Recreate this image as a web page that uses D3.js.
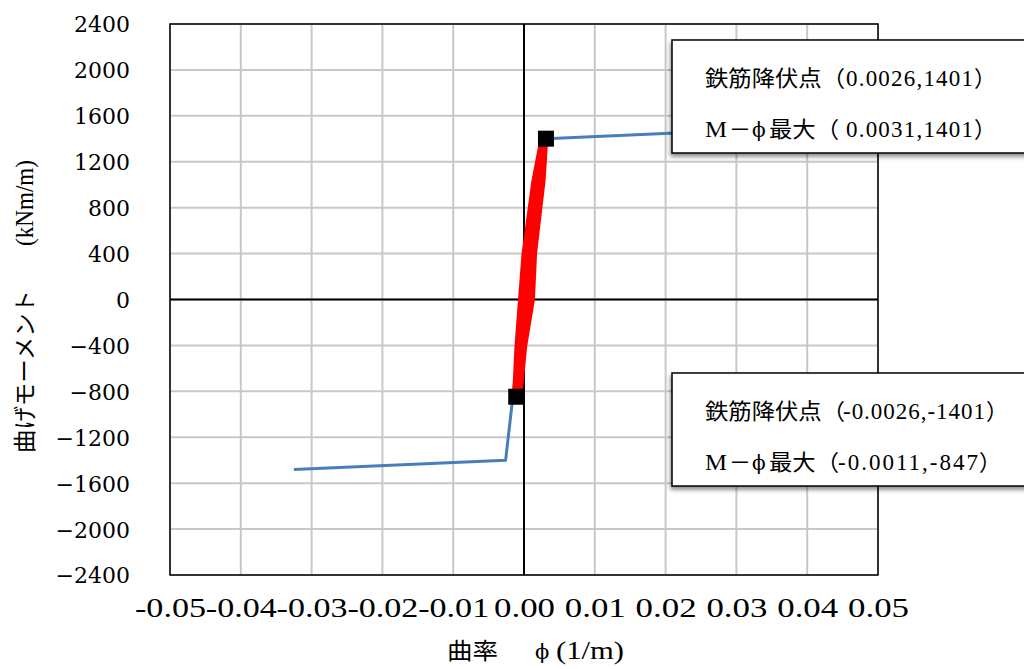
<!DOCTYPE html>
<html><head><meta charset="utf-8">
<script src="https://cdn.jsdelivr.net/npm/d3@7"></script>
<style>
html,body{margin:0;padding:0;background:#fff;}
svg{display:block;}
</style></head>
<body>
<svg id="chart" width="1024" height="669"></svg>
<script>
// ---- data ----
const xTickValues = [-0.05,-0.04,-0.03,-0.02,-0.01,0,0.01,0.02,0.03,0.04,0.05];
const xTickLabels = ["-0.05","-0.04","-0.03","-0.02","-0.01","0.00","0.01","0.02","0.03","0.04","0.05"];
const yTickValues = [-2400,-2000,-1600,-1200,-800,-400,0,400,800,1200,1600,2000,2400];
const yTickLabels = ["\u22122400","\u22122000","\u22121600","\u22121200","\u2212800","\u2212400","0","400","800","1200","1600","2000","2400"];

// skeleton curve (blue)
const skeletonPhi = [-0.0325,-0.0026,0,0.0026,0.0031,0.0325];
const skeletonM   = [-1480,-1401,0,1401,1401,1480];

// hysteresis loops (red)
const loopPhi = [
 -0.0011,-0.0014,-0.0011,-0.0006,-0.0001,0.0013,0.0022,0.0031,
  0.0031,0.0028,0.0016,0.0013,0.0002,-0.0004,-0.0011,
 -0.0012,-0.0008,-0.0002,0.0003,0.0016,0.0024,0.0031,
  0.0030,0.0025,0.0012,0.0008,-0.0002,-0.0007,-0.0011,
 -0.0010,-0.0005,0.0001,0.0006,0.0019,0.0026,0.0031,
  0.0028,0.0022,0.0009,0.0004,-0.0004,-0.0009,-0.0011
];
const loopM = [
 -847,-793,-409,0,400,1037,1324,1401,
  1324,1037,400,0,-409,-793,-847,
 -793,-409,0,400,1037,1324,1401,
  1324,1037,400,0,-409,-793,-847,
 -793,-409,0,400,1037,1324,1401,
  1324,1037,400,0,-409,-793,-847
];

// markers (M-phi max)
const markerPhi = [0.0031,-0.0011];
const markerM   = [1401,-847];

// annotation texts
const annoPrefix = ["鉄筋降伏点（","最大（"];
const annoNums1 = ["0.0026,1401","0.0031,1401"];
const annoNums2 = ["-0.0026,-1401","-0.0011,-847"];

const xTitleParts = ["曲率","\u03D5","(1/m)"];
const yTitleParts = ["曲げモーメント","(kNm/m)"];

// ---- layout ----
const L = 170, R = 878, T = 24, B = 575;
const svg = d3.select("#chart");
const x = d3.scaleLinear().domain([-0.05,0.05]).range([L,R]);
const y = d3.scaleLinear().domain([-2400,2400]).range([B,T]);
const CJK = "'Noto Sans CJK JP'";

const defs = svg.append("defs");
const f = defs.append("filter").attr("id","shadow").attr("x","-10%").attr("y","-10%").attr("width","130%").attr("height","140%");
f.append("feDropShadow").attr("dx",-1).attr("dy",3).attr("stdDeviation",2).attr("flood-color","#000").attr("flood-opacity",0.45);

// grid
const grid = svg.append("g");
grid.selectAll("line.v").data(xTickValues).join("line").attr("class","v")
  .attr("x1",d=>x(d)).attr("x2",d=>x(d)).attr("y1",T).attr("y2",B)
  .attr("stroke","#c8c8c8").attr("stroke-width",2);
grid.selectAll("line.h").data(yTickValues).join("line").attr("class","h")
  .attr("x1",L).attr("x2",R).attr("y1",d=>y(d)).attr("y2",d=>y(d))
  .attr("stroke","#c8c8c8").attr("stroke-width",2);

// border
svg.append("rect").attr("x",L).attr("y",T).attr("width",R-L).attr("height",B-T)
  .attr("fill","none").attr("stroke","#000").attr("stroke-width",1.5);

// zero axes
svg.append("line").attr("x1",x(0)).attr("x2",x(0)).attr("y1",T).attr("y2",B).attr("stroke","#000").attr("stroke-width",2);
svg.append("line").attr("x1",L).attr("x2",R).attr("y1",y(0)).attr("y2",y(0)).attr("stroke","#000").attr("stroke-width",2);

// axis tick labels via d3 axes
const yAxis = d3.axisLeft(y).tickValues(yTickValues).tickSize(0).tickPadding(0)
  .tickFormat((d,i)=>yTickLabels[i]);
const gy = svg.append("g").attr("transform","translate(130,0)").call(yAxis);
gy.select(".domain").remove();
gy.selectAll("text").attr("font-family","'DejaVu Serif'").attr("font-size",22).attr("fill","#000").attr("dy","0.36em");

const xAxis = d3.axisBottom(x).tickValues(xTickValues).tickSize(0).tickPadding(0)
  .tickFormat((d,i)=>xTickLabels[i]);
const gx = svg.append("g").attr("transform","translate(0,598)").call(xAxis);
gx.select(".domain").remove();
gx.selectAll("text").attr("font-family","'Liberation Serif'").attr("font-size",27).attr("fill","#000").attr("dy","0.7em")
  .attr("textLength",(d,i)=>xTickLabels[i].length===5?71:61).attr("lengthAdjust","spacingAndGlyphs");

// x title
const xt = svg.append("text").attr("y",659).attr("font-size",23).attr("fill","#000");
xt.append("tspan").attr("x",447).attr("font-family",CJK).attr("textLength",51).attr("lengthAdjust","spacingAndGlyphs").text(xTitleParts[0]);
xt.append("tspan").attr("x",535).attr("font-family","'DejaVu Serif'").attr("font-size",21).text(xTitleParts[1]);
xt.append("tspan").attr("x",556).attr("font-family","'Liberation Serif'").attr("font-size",25).attr("textLength",68).attr("lengthAdjust","spacingAndGlyphs").text(xTitleParts[2]);

// y title
const yt = svg.append("text").attr("transform","translate(25,0) rotate(-90)").attr("dy","0.36em").attr("font-size",23).attr("fill","#000");
yt.append("tspan").attr("x",-453).attr("font-family",CJK).attr("textLength",163).attr("lengthAdjust","spacingAndGlyphs").text(yTitleParts[0]);
yt.append("tspan").attr("x",-246).attr("font-family","'Liberation Serif'").attr("font-size",25).attr("textLength",86).attr("lengthAdjust","spacingAndGlyphs").text(yTitleParts[1]);

// skeleton
const skel = skeletonPhi.map((p,i)=>[p,skeletonM[i]]);
const line = d3.line().x(d=>x(d[0])).y(d=>y(d[1]));
svg.append("path").attr("d",line(skel)).attr("fill","none").attr("stroke","#4a7ebb").attr("stroke-width",3).attr("stroke-linejoin","round");

// hysteresis
const loop = loopPhi.map((p,i)=>[p,loopM[i]]);
svg.append("path").attr("d",line(loop)).attr("fill","none").attr("stroke","#ff0000").attr("stroke-width",3.5).attr("stroke-linejoin","round");

// markers
svg.selectAll("rect.mk").data(markerPhi).join("rect").attr("class","mk")
  .attr("x",(d)=>x(d)-8).attr("y",(d,i)=>y(markerM[i])-8).attr("width",16).attr("height",16).attr("fill","#000");

// annotation boxes
function box(top, nums, numX, numLen){
  const g = svg.append("g");
  g.append("rect").attr("x",672).attr("y",top).attr("width",370).attr("height",113)
    .attr("fill","#fff").attr("stroke","#000").attr("stroke-width",1.5).attr("filter","url(#shadow)");
  const t1 = g.append("text").attr("y",top+46).attr("font-size",22).attr("fill","#000");
  t1.append("tspan").attr("x",705).attr("font-family",CJK).attr("textLength",140).attr("lengthAdjust","spacingAndGlyphs").text(annoPrefix[0]);
  t1.append("tspan").attr("x",numX[0]).attr("font-family","'Liberation Serif'").attr("font-size",23).attr("textLength",numLen[0]).attr("lengthAdjust","spacing").text(nums[0]);
  t1.append("tspan").attr("x",numX[0]+numLen[0]+1).attr("font-family",CJK).text("）");
  const t2 = g.append("text").attr("y",top+97).attr("font-size",22).attr("fill","#000");
  t2.append("tspan").attr("x",705).attr("font-family","'Liberation Serif'").attr("font-size",24).attr("textLength",22).attr("lengthAdjust","spacingAndGlyphs").text("M");
  t2.append("tspan").attr("x",729).attr("font-family",CJK).text("－");
  t2.append("tspan").attr("x",752).attr("font-family","'DejaVu Serif'").attr("font-size",20).text("\u03D5");
  t2.append("tspan").attr("x",769).attr("font-family",CJK).attr("textLength",70).attr("lengthAdjust","spacingAndGlyphs").text(annoPrefix[1]);
  t2.append("tspan").attr("x",numX[1]).attr("font-family","'Liberation Serif'").attr("font-size",23).attr("textLength",numLen[1]).attr("lengthAdjust","spacing").text(nums[1]);
  t2.append("tspan").attr("x",numX[1]+numLen[1]+1).attr("font-family",CJK).text("）");
}
box(40, annoNums1, [846,846], [127,127]);
box(373, annoNums2, [843,838], [142,140]);
</script>
</body></html>
